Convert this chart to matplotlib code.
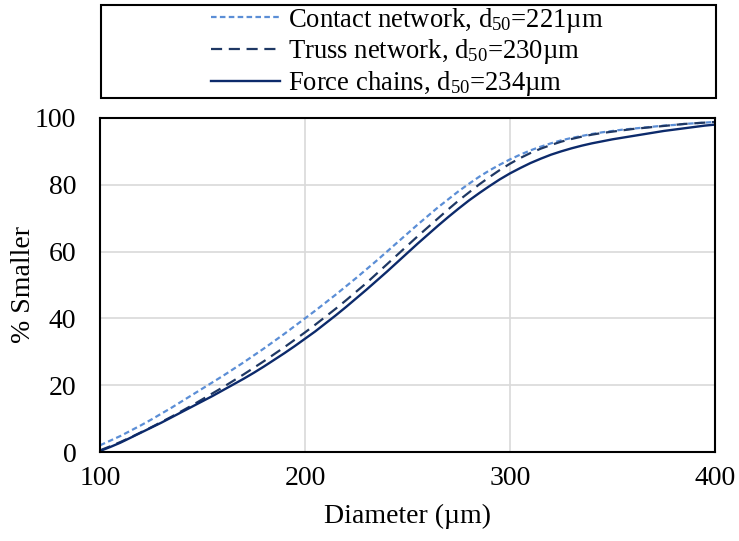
import numpy as np
import matplotlib.pyplot as plt
from matplotlib.patches import Rectangle

plt.rcParams['font.family'] = ['Liberation Serif', 'DejaVu Serif']
plt.rcParams['mathtext.fontset'] = 'custom'
plt.rcParams['mathtext.rm'] = 'Liberation Serif'
plt.rcParams['mathtext.it'] = 'Liberation Serif:italic'

# diameter (um), every 5 um
diameter = list(range(100, 405, 5))

# % smaller
contact = [2.0, 3.4, 4.8, 6.4, 8.0, 9.7, 11.5, 13.3, 15.2, 17.1,
           19.0, 20.9, 22.8, 24.8, 26.8, 28.9, 31.0, 33.2, 35.4, 37.7,
           40.0, 42.3, 44.7, 47.1, 49.6, 52.1, 54.7, 57.3, 60.0, 62.7,
           65.4, 68.1, 70.7, 73.3, 75.7, 78.1, 80.3, 82.4, 84.3, 86.0,
           87.6, 89.0, 90.3, 91.4, 92.4, 93.3, 94.0, 94.6, 95.2, 95.7,
           96.1, 96.5, 96.8, 97.1, 97.4, 97.7, 97.9, 98.2, 98.4, 98.6, 98.8]
truss = [0.5, 1.7, 3.0, 4.4, 5.9, 7.4, 9.0, 10.6, 12.3, 14.0,
         15.8, 17.6, 19.4, 21.3, 23.2, 25.2, 27.2, 29.3, 31.4, 33.6,
         35.8, 38.1, 40.5, 42.9, 45.4, 48.0, 50.6, 53.4, 56.2, 59.0,
         61.8, 64.6, 67.3, 70.0, 72.7, 75.3, 77.7, 80.1, 82.3, 84.4,
         86.3, 88.0, 89.5, 90.8, 91.9, 92.9, 93.7, 94.4, 95.0, 95.5,
         95.9, 96.3, 96.7, 97.0, 97.3, 97.6, 97.9, 98.2, 98.4, 98.6, 98.8]
force = [0.3, 1.5, 2.8, 4.3, 5.8, 7.3, 8.8, 10.4, 12.0, 13.6,
         15.2, 16.8, 18.5, 20.2, 21.9, 23.7, 25.6, 27.6, 29.6, 31.7,
         33.9, 36.1, 38.5, 40.9, 43.4, 46.0, 48.6, 51.3, 54.0, 56.8,
         59.6, 62.4, 65.1, 67.8, 70.4, 72.9, 75.3, 77.5, 79.6, 81.6,
         83.4, 85.0, 86.5, 87.8, 89.0, 90.0, 90.9, 91.7, 92.4, 93.0,
         93.6, 94.1, 94.6, 95.1, 95.6, 96.1, 96.5, 96.9, 97.3, 97.7, 98.0]

labels = [r'Contact network, d$_{50}$=221µm',
          r'Truss network, d$_{50}$=230µm',
          r'Force chains, d$_{50}$=234µm']

fs = 20

fig = plt.figure(figsize=(7.39, 5.41), dpi=100)
ax = fig.add_axes([0.1353, 0.1645, 0.8322, 0.6175])

l1, = ax.plot(diameter, contact, color='#5b8ed6', lw=1.6, ls=(0, (2.5, 1.5)))
l2, = ax.plot(diameter, truss, color='#1f3864', lw=1.6, ls=(0, (5, 3)))
l3, = ax.plot(diameter, force, color='#0c2a6b', lw=1.7, ls='-')

ax.set_xlim(100, 400)
ax.set_ylim(0, 100)
ax.set_xticks([100, 200, 300, 400])
ax.set_yticks([0, 20, 40, 60, 80, 100])
ax.grid(True, color='#d9d9d9', lw=1.2)
ax.set_axisbelow(True)
ax.tick_params(length=0, labelsize=fs)
ax.tick_params(axis='x', pad=10)
ax.tick_params(axis='y', pad=17)
for s in ax.spines.values():
    s.set_linewidth(1.5)
    s.set_color('black')

ax.set_xlabel('Diameter (µm)', fontsize=fs, labelpad=9)
ax.set_ylabel('% Smaller', fontsize=fs, labelpad=-1)

# legend box spans the axes width, entries centred in it
fig.patches.append(Rectangle((0.1367, 0.8189), 0.8323, 0.1719,
                             transform=fig.transFigure, fill=False,
                             edgecolor='black', lw=1.5))
leg = fig.legend([l1, l2, l3], labels, loc='center',
                 bbox_to_anchor=(0.5514, 0.9044),
                 fontsize=19.2, frameon=False, handlelength=2.6,
                 labelspacing=0.1, handletextpad=0.3, borderpad=0)

plt.savefig('out.png', dpi=100)
